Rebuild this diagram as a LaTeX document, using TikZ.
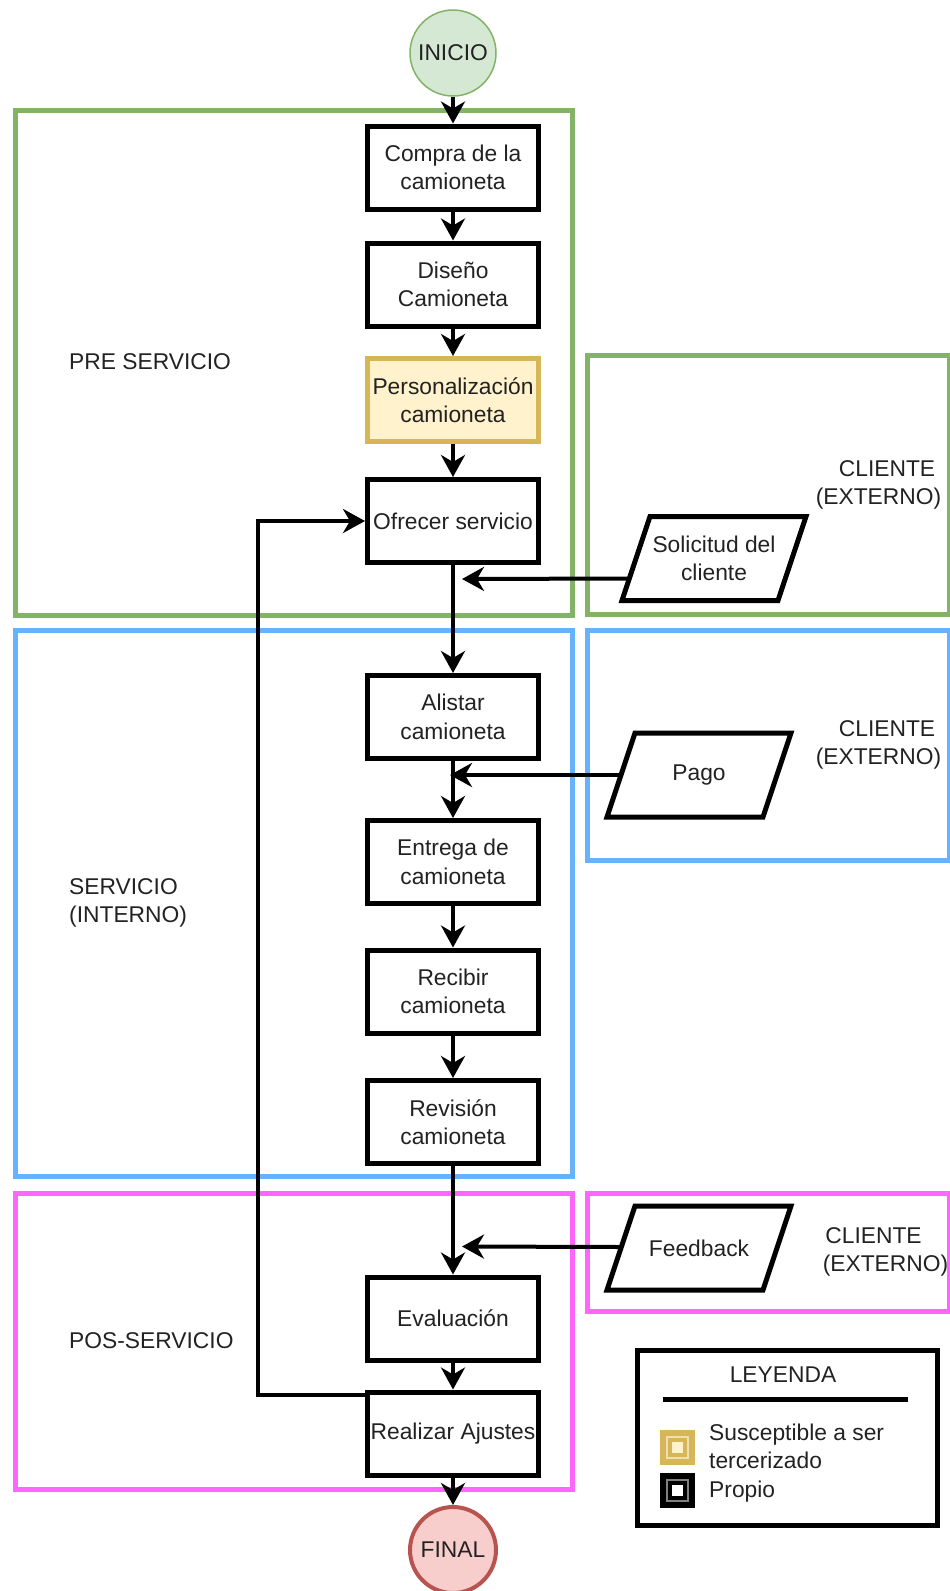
\documentclass[tikz,border=0pt]{standalone}
\usepackage{fontspec}
\setmainfont{Liberation Sans}
\usetikzlibrary{arrows.meta}

\definecolor{grpgreen}{HTML}{82B366}
\definecolor{grpblue}{HTML}{66B2FF}
\definecolor{grppink}{HTML}{FF66FF}
\definecolor{startfill}{HTML}{D5E8D4}
\definecolor{endfill}{HTML}{F8CECC}
\definecolor{endline}{HTML}{B85450}
\definecolor{outfill}{HTML}{FFF2CC}
\definecolor{outline}{HTML}{D6B656}
\definecolor{ink}{HTML}{222222}

% parallelogram drawn around a text node
\newcommand\dataframe[1]{%
  \draw[parabox] ([shift={(-64,-42)}]#1.center) -- ([shift={(92,-42)}]#1.center)
    -- ([shift={(64,42)}]#1.center) -- ([shift={(-92,42)}]#1.center) -- cycle;}

\begin{document}
\begin{tikzpicture}[x=1pt,y=-1pt,
  every node/.style={font=\fontsize{22.8pt}{28.4pt}\selectfont, text=ink, inner sep=0pt},
  stepbox/.style={draw=black, line width=5pt, fill=white,
    minimum width=171pt, minimum height=83pt, align=center},
  outbox/.style={stepbox, draw=outline, fill=outfill},
  grp/.style={line width=5pt},
  conn/.style={line width=4pt, -{Stealth[length=22pt,width=24pt,inset=7pt]}},
  parabox/.style={draw=black, line width=5pt, line join=miter},
  label/.style={anchor=west, align=left},
  side/.style={align=center}
]
\useasboundingbox (0,0) rectangle (950,1591);

% swimlane frames
\draw[grp, grpgreen] (15.5,110) rectangle (572,615.5);
\draw[grp, grpgreen] (587,355.5) rectangle (949,614.5);
\draw[grp, grpblue]  (15.5,630) rectangle (572,1176.5);
\draw[grp, grpblue]  (587,630) rectangle (949,860);
\draw[grp, grppink]  (15.5,1193) rectangle (572,1489.5);
\draw[grp, grppink]  (587,1193) rectangle (949,1311);

% lane titles
\node[label] (lpre) at (69,362) {PRE SERVICIO};
\node[label] (lser) at (69,903) {SERVICIO\\(INTERNO)};
\node[label] (lpos) at (69,1341) {POS-SERVICIO};
\node[side] (c1) at (878.5,485) {\rule{17pt}{0pt}CLIENTE\\(EXTERNO)};
\node[side] (c2) at (878.5,745) {\rule{17pt}{0pt}CLIENTE\\(EXTERNO)};
\node[side] (c3) at (885.5,1252) {CLIENTE\rule{24pt}{0pt}\\(EXTERNO)};

% start / end
\node[circle, draw=grpgreen, line width=1.5pt, fill=startfill, minimum size=86pt] (ini) at (453,53) {INICIO};
\node[circle, draw=endline, line width=4pt, fill=endfill, minimum size=86pt] (fin) at (453,1550) {FINAL};

% process steps
\node[stepbox] (com) at (453,167.5) {Compra de la\\camioneta};
\node[stepbox] (dis) at (453,284.5) {Diseño\\Camioneta};
\node[outbox]  (per) at (453,400)   {Personalización\\camioneta};
\node[stepbox] (ofr) at (453,521)   {Ofrecer servicio};
\node[stepbox] (ali) at (453,717)   {Alistar\\camioneta};
\node[stepbox] (ent) at (453,862)   {Entrega de\\camioneta};
\node[stepbox] (rec) at (453,991.5) {Recibir\\camioneta};
\node[stepbox] (rev) at (453,1122)  {Revisión\\camioneta};
\node[stepbox] (eva) at (453,1318.5){Evaluación};
\node[stepbox] (aju) at (453,1433.5){Realizar Ajustes};

% client inputs
\node[align=center] (sol) at (714,558.5) {Solicitud del\\cliente};
\node (pag) at (699,775) {Pago};
\node (fee) at (699,1248) {Feedback};
\dataframe{sol}
\dataframe{pag}
\dataframe{fee}

\coordinate (solin) at (462,579);
\coordinate (pagin) at (450,775);
\coordinate (feein) at (462,1246.5);

% main flow
\draw[conn] (ini) -- (com);
\draw[conn] (com) -- (dis);
\draw[conn] (dis) -- (per);
\draw[conn] (per) -- (ofr);
\draw[conn] (ofr) -- (ali);
\draw[conn] (ali) -- (ent);
\draw[conn] (ent) -- (rec);
\draw[conn] (rec) -- (rev);
\draw[conn] (rev) -- (eva);
\draw[conn] (eva) -- (aju);
\draw[conn] (aju) -- (fin);

% feedback loop back to the offer
\draw[conn] ([yshift=38.5pt]aju.west) -- ++(-107,0) |- (ofr.west);

% client inputs into the flow
\draw[conn] ([shift={(-84.5,20)}]sol.center) -- (solin);
\draw[conn] ([shift={(-78,0)}]pag.center) -- (pagin);
\draw[conn] ([shift={(-78,-1)}]fee.center) -- (feein);

% legend
\node[draw=black, line width=5pt, minimum width=300pt, minimum height=175pt] (leg) at (787.5,1438) {};
\node (legt) at (783,1375) {LEYENDA};
\draw[line width=5pt] ([xshift=-120pt]legt.center |- 0,1399) coordinate (la) -- ++(245,0) coordinate (lb);
\fill[outline] (660,1430) rectangle (695,1465);
\draw[line width=2pt, draw=outline!45!white, fill=outline] (667,1437) rectangle (688,1458);
\fill[outfill] (672,1442) rectangle (683,1453);
\fill[black] (660,1473) rectangle (695,1508);
\draw[line width=2pt, draw=black!50, fill=black] (667,1480) rectangle (688,1501);
\fill[white] (672,1485) rectangle (683,1496);
\node[label] (legx) at (709,1463) {Susceptible a ser\\tercerizado\\Propio};
\end{tikzpicture}
\end{document}
